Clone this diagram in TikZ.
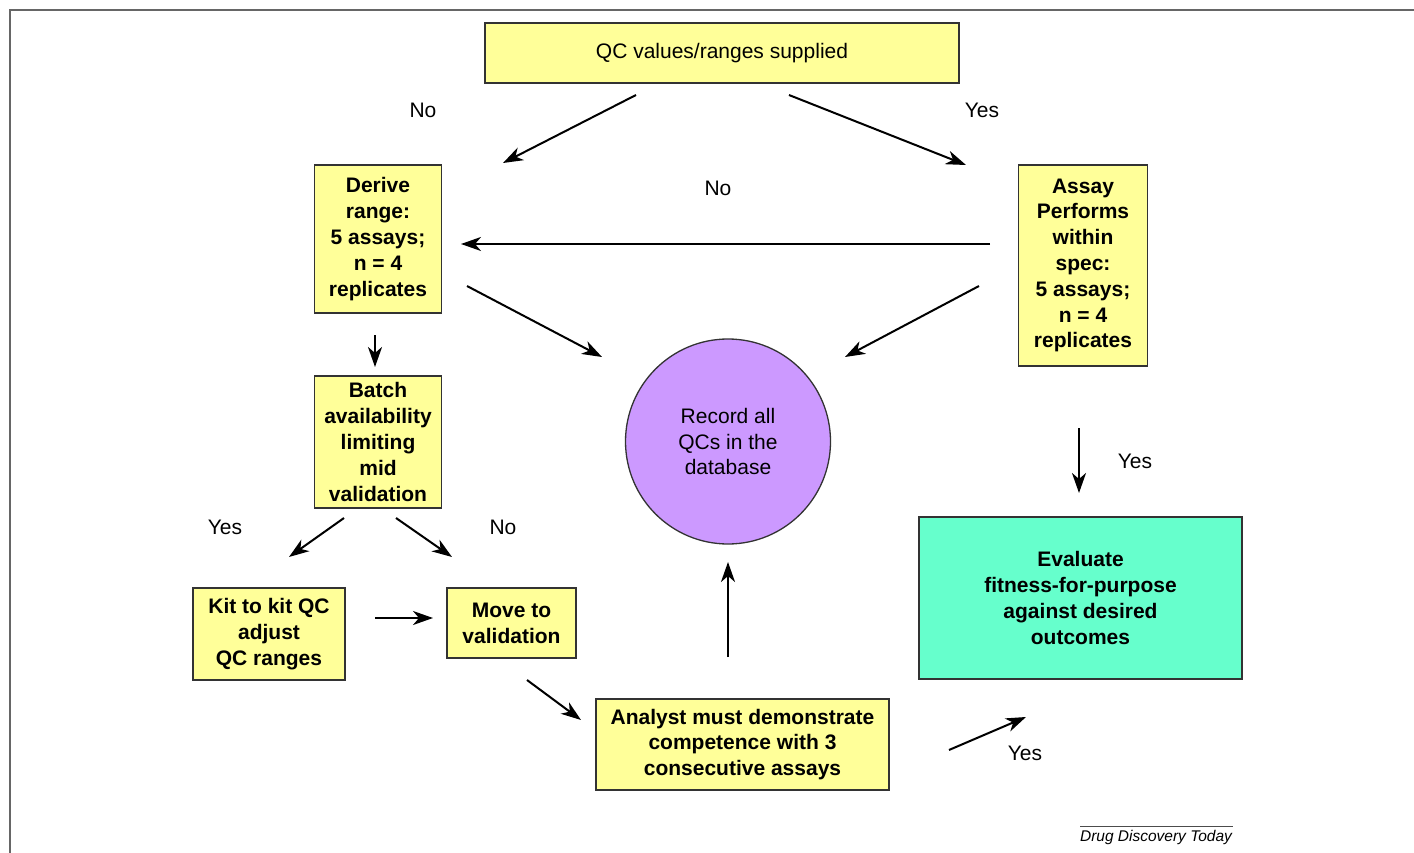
\documentclass[tikz,border=0pt]{standalone}
\usepackage{fontspec}
\setmainfont{Liberation Sans}
\usetikzlibrary{arrows.meta}
\definecolor{qcyellow}{RGB}{255,255,153}
\definecolor{qcviolet}{RGB}{204,153,255}
\definecolor{qcgreen}{RGB}{102,255,204}

\begin{document}
\begin{tikzpicture}[x=1pt,y=-1pt,>={Stealth[length=20pt,width=14pt,inset=6pt]}]
  \tikzstyle{stepbox}=[draw=black!80,line width=1.3pt,fill=qcyellow,align=center,inner sep=0pt,font=\bfseries\fontsize{21}{25.8}\selectfont]
  \tikzstyle{answer}=[font=\fontsize{21}{25.8}\selectfont]
  \tikzstyle{flow}=[->,line width=2pt]
  \useasboundingbox (0,0) rectangle (1414,853);
  \draw [black!60, line width=1.3pt] (10,853) -- (10,10) -- (1414,10);
  % boxes
  \node[stepbox, font=\fontsize{21}{25.8}\selectfont, minimum width=474pt, minimum height=60pt] (QC) at (722,53) {QC values/ranges supplied};
  \node[stepbox, minimum width=127pt, minimum height=148pt] (Derive) at (378,239) {Derive\\range:\\5 assays;\\n = 4\\replicates};
  \node[stepbox, minimum width=129pt, minimum height=201pt] (Assay) at (1083,265.5) {Assay\\Performs\\within\\spec:\\5 assays;\\n = 4\\replicates};
  \node[stepbox, minimum width=127pt, minimum height=132pt] (Batch) at (378,442) {Batch\\availability\\limiting\\mid\\validation};
  \node[stepbox, minimum width=152pt, minimum height=92pt] (Kit) at (269,634) {Kit to kit QC\\adjust\\QC ranges};
  \node[stepbox, minimum width=129pt, minimum height=70pt] (Move) at (511.5,623) {Move to\\validation};
  \node[stepbox, minimum width=293pt, minimum height=91pt] (Analyst) at (742.5,744.5) {Analyst must demonstrate\\competence with 3\\consecutive assays};
  \node[stepbox, fill=qcgreen, minimum width=323pt, minimum height=162pt] (Evaluate) at (1080.5,598) {Evaluate\\fitness-for-purpose\\against desired\\outcomes};
  \node[circle, draw=black!80, line width=1.3pt, fill=qcviolet, minimum size=205pt, align=center, answer] (Record) at (728,441.5) {Record all\\QCs in the\\database};
  % answers
  \node[answer] (noQC) at (423,110) {No};
  \node[answer] (yesQC) at (982,110) {Yes};
  \node[answer] (noAssay) at (718,188) {No};
  \node[answer] (yesAssay) at (1135,461) {Yes};
  \node[answer] (yesBatch) at (225,527) {Yes};
  \node[answer] (noBatch) at (503,527) {No};
  \node[answer] (yesAnalyst) at (1025,753) {Yes};
  % arrow ends
  \coordinate (QC-l) at (636,95);
  \coordinate (Derive-t) at (503,163);
  \coordinate (QC-r) at (789,95);
  \coordinate (Assay-t) at (966,165);
  \coordinate (Assay-w) at (990,244);
  \coordinate (Derive-e) at (461,244);
  \coordinate (Derive-se) at (467,286);
  \coordinate (Record-nw) at (602,357);
  \coordinate (Assay-sw) at (979,286);
  \coordinate (Record-ne) at (845,357);
  \coordinate (Derive-s) at (375,335);
  \coordinate (Batch-n) at (375,367);
  \coordinate (Batch-sw) at (344,518);
  \coordinate (Kit-n) at (289,557);
  \coordinate (Batch-se) at (396,518);
  \coordinate (Move-n) at (452,557);
  \coordinate (Kit-e) at (375,618);
  \coordinate (Move-w) at (433,618);
  \coordinate (Move-s) at (527,680);
  \coordinate (Analyst-nw) at (581,720);
  \coordinate (Analyst-n) at (728,657);
  \coordinate (Record-s) at (728,562);
  \coordinate (Assay-s) at (1079,428);
  \coordinate (Evaluate-n) at (1079,493);
  \coordinate (Analyst-e) at (949,750);
  \coordinate (Evaluate-sw) at (1026,717);
  % arrows
  \draw [flow] (QC-l) -- (Derive-t);
  \draw [flow] (QC-r) -- (Assay-t);
  \draw [flow] (Assay-w) -- (Derive-e);
  \draw [flow] (Derive-se) -- (Record-nw);
  \draw [flow] (Assay-sw) -- (Record-ne);
  \draw [flow] (Derive-s) -- (Batch-n);
  \draw [flow] (Batch-sw) -- (Kit-n);
  \draw [flow] (Batch-se) -- (Move-n);
  \draw [flow] (Kit-e) -- (Move-w);
  \draw [flow] (Move-s) -- (Analyst-nw);
  \draw [flow] (Analyst-n) -- (Record-s);
  \draw [flow] (Assay-s) -- (Evaluate-n);
  \draw [flow] (Analyst-e) -- (Evaluate-sw);
  % journal
  \coordinate (rule-l) at (1080,826);
  \coordinate (rule-r) at (1233,826);
  \draw [black!70, line width=0.7pt] (rule-l) -- (rule-r);
  \node[font=\itshape\fontsize{15.5}{18}\selectfont] (journal) at (1156,837) {Drug Discovery Today};
\end{tikzpicture}
\end{document}
